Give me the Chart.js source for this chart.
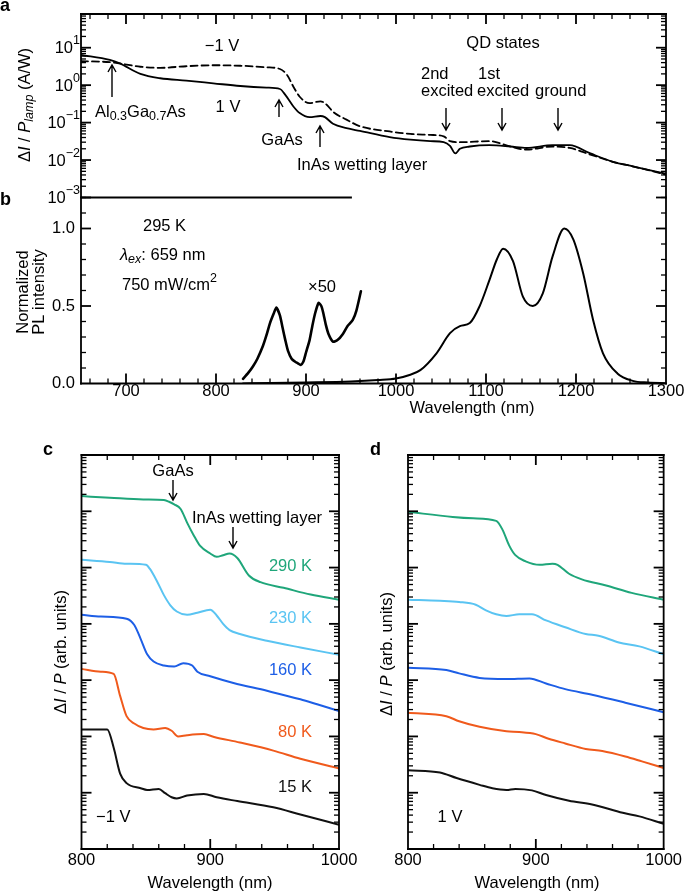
<!DOCTYPE html>
<html>
<head>
<meta charset="utf-8">
<script src="https://cdn.jsdelivr.net/npm/chart.js@4.4.1/dist/chart.umd.min.js"></script>
<style>
  html, body { margin: 0; padding: 0; background: #fff; }
  #wrap { position: relative; width: 685px; height: 893px; overflow: hidden; }
  #wrap canvas { position: absolute; left: 0; top: 0; }
</style>
</head>
<body>
<div id="wrap">
  <canvas id="chartA" width="685" height="893"></canvas>
  <canvas id="chartB" width="685" height="893"></canvas>
  <canvas id="chartC" width="685" height="893"></canvas>
  <canvas id="chartD" width="685" height="893"></canvas>
</div>
<script>
// ---- panel a: ΔI / P_lamp (A/W) vs wavelength (nm)
const aWave1V = [650, 682, 693, 716, 738, 767, 797, 827, 856, 871, 877, 886, 893, 904, 916, 921, 930, 945, 960, 993, 1016, 1038, 1053, 1060, 1066, 1071, 1082, 1104, 1127, 1145, 1174, 1193, 1216, 1241, 1263, 1300];
const aResp1V = [6.4, 4.7, 3.8, 2.0, 1.53, 1.32, 1.12, 0.95, 0.86, 0.79, 0.55, 0.27, 0.18, 0.14, 0.15, 0.14, 0.093, 0.071, 0.06, 0.041, 0.035, 0.032, 0.030, 0.024, 0.015, 0.020, 0.023, 0.025, 0.023, 0.021, 0.025, 0.025, 0.015, 0.009, 0.0068, 0.0043];
const aWaveM1V = [650, 682, 693, 716, 738, 767, 797, 827, 856, 871, 879, 886, 893, 904, 916, 923, 930, 945, 960, 993, 1016, 1038, 1053, 1060, 1071, 1104, 1127, 1145, 1174, 1193, 1216, 1241, 1263, 1300];
const aRespM1V = [4.4, 4.1, 3.8, 3.1, 2.9, 3.2, 3.4, 3.3, 3.0, 2.7, 1.87, 0.91, 0.49, 0.33, 0.37, 0.30, 0.195, 0.12, 0.08, 0.058, 0.05, 0.047, 0.043, 0.032, 0.030, 0.032, 0.023, 0.019, 0.023, 0.021, 0.014, 0.009, 0.0068, 0.0041];

// ---- panel b: normalized PL intensity
const bWave = [830, 860, 900, 950, 980, 1000, 1015, 1027, 1045, 1060, 1071, 1082, 1093, 1104, 1112, 1119, 1130, 1141, 1152, 1163, 1174, 1187, 1197, 1208, 1219, 1230, 1246, 1263, 1280, 1300];
const bPL = [0.0, 0.004, 0.007, 0.013, 0.022, 0.032, 0.055, 0.086, 0.195, 0.325, 0.37, 0.39, 0.5, 0.67, 0.8, 0.87, 0.79, 0.56, 0.50, 0.58, 0.82, 1.0, 0.93, 0.71, 0.41, 0.195, 0.065, 0.017, 0.006, 0.002];
const bWaveX50 = [830, 836, 841, 846, 852, 856, 860, 864, 867, 871, 874, 877, 880, 884, 888, 891, 894, 897, 900, 904, 907, 910, 914, 917, 919, 922, 925, 930, 935, 941, 946, 952, 956, 961];
const bPLx50 = [0.03, 0.07, 0.11, 0.16, 0.24, 0.31, 0.39, 0.45, 0.49, 0.44, 0.36, 0.28, 0.21, 0.16, 0.14, 0.13, 0.12, 0.14, 0.2, 0.28, 0.37, 0.45, 0.52, 0.5, 0.46, 0.38, 0.32, 0.27, 0.28, 0.32, 0.37, 0.41, 0.47, 0.595];

// ---- panel c: -1 V, arb. units
const cWave290 = [800, 822, 848, 864, 868, 872, 877, 882, 887, 892, 900, 905, 910, 915, 921, 930, 939, 957, 978, 1000];
const c290 = [1.86e6, 1.74e6, 1.62e6, 1.58e6, 1.48e6, 1.33e6, 1.1e6, 6.3e5, 3.8e5, 2.45e5, 1.78e5, 1.55e5, 1.66e5, 1.78e5, 1.48e5, 7.24e4, 5.5e4, 4.37e4, 3.31e4, 2.69e4];
const cWave230 = [800, 822, 835, 850, 853, 859, 864, 869, 874, 882, 890, 900, 905, 910, 915, 923, 944, 970, 1000];
const c230 = [1.38e5, 1.26e5, 1.17e5, 1.12e5, 9.55e4, 5.5e4, 3.24e4, 2.14e4, 1.66e4, 1.45e4, 1.58e4, 1.78e4, 1.41e4, 1.0e4, 7.76e3, 6.61e3, 5.01e3, 3.8e3, 2.82e3];
const cWave160 = [800, 815, 835, 841, 846, 851, 856, 864, 872, 879, 886, 890, 900, 918, 944, 970, 983, 1000];
const c160 = [1.45e4, 1.35e4, 1.23e4, 9.55e3, 5.37e3, 2.88e3, 2.14e3, 1.82e3, 1.74e3, 2.0e3, 1.82e3, 1.41e3, 1.17e3, 891, 646, 457, 372, 282];
const cWave80 = [800, 815, 825, 830, 835, 841, 848, 856, 865, 870, 875, 882, 895, 903, 923, 949, 970, 1000];
const c80 = [1585, 1413, 1288, 525, 229, 170, 141, 133, 141, 126, 100, 105, 110, 98, 78, 56, 40, 27];
const cWave15 = [800, 820, 825, 830, 835, 846, 851, 860, 865, 870, 874, 882, 895, 905, 921, 949, 970, 1000];
const c15 = [133, 133, 63, 21.9, 14.8, 12.0, 11.2, 11.7, 9.8, 8.3, 7.9, 8.9, 9.5, 8.3, 7.1, 5.5, 4.1, 2.7];

// ---- panel d: 1 V, arb. units
const dWave290 = [800, 835, 851, 869, 874, 879, 884, 892, 903, 913, 917, 926, 936, 955, 975, 1000];
const d290 = [9.77e5, 7.94e5, 7.5e5, 6.76e5, 4.68e5, 2.51e5, 1.66e5, 1.29e5, 1.12e5, 1.17e5, 1.12e5, 7.76e4, 6.17e4, 4.79e4, 3.55e4, 2.69e4];
const dWave230 = [800, 825, 840, 853, 861, 869, 877, 887, 897, 908, 923, 939, 949, 965, 981, 1000];
const d230 = [2.69e4, 2.57e4, 2.45e4, 2.19e4, 1.74e4, 1.48e4, 1.38e4, 1.48e4, 1.48e4, 1.15e4, 8.71e3, 6.61e3, 6.17e3, 4.68e3, 3.98e3, 2.88e3];
const dWave160 = [800, 830, 840, 856, 877, 895, 908, 923, 944, 970, 1000];
const d160 = [1660, 1514, 1318, 1096, 1047, 1072, 871, 692, 550, 398, 269];
const dWave80 = [800, 830, 840, 856, 877, 887, 900, 910, 923, 939, 952, 970, 983, 1000];
const d80 = [263, 229, 186, 148, 123, 120, 110, 91, 75, 60, 55, 44, 36, 27.5];
const dWave15 = [800, 825, 838, 856, 866, 877, 884, 897, 908, 926, 944, 968, 981, 1000];
const d15 = [25.1, 22.9, 18.2, 13.8, 12.0, 11.2, 11.7, 11.0, 9.1, 7.2, 6.2, 4.4, 3.8, 2.8];

const tempLabels = ['290 K', '230 K', '160 K', '80 K', '15 K'];
const tempColors = ['#1fa67a', '#5ac4f2', '#1d5ee6', '#f05a1c', '#111111'];
const bXLabels = [700, 800, 900, 1000, 1100, 1200, 1300];
const bYLabels = [0, 0.5, 1.0];
const cdXLabels = [800, 900, 1000];

const FAM = '"Liberation Sans", Arial, Helvetica, sans-serif';
const f = (size, style) => (style ? style + ' ' : '') + size + 'px ' + FAM;
const XH = 28, YW = 45; // room kept for tick labels outside each plot box

function pts(xs, ys) { return xs.map((x, i) => ({ x: x, y: ys[i] })); }
function steps(a, b, st) { const out = []; for (let v = a; v <= b + 1e-9; v += st) out.push(+v.toFixed(6)); return out; }
function logMinor(e0, e1, max) {
  const out = [];
  for (let e = e0; e <= e1; e++) for (let k = 2; k <= 9; k++) { const v = k * Math.pow(10, e); if (v < max) out.push(v); }
  return out;
}

function rich(ctx, x, y, parts, align) {
  let w = 0;
  parts.forEach(p => { ctx.font = p[1]; w += ctx.measureText(p[0]).width; });
  let cx = align === 'center' ? x - w / 2 : align === 'right' ? x - w : x;
  ctx.textAlign = 'left';
  ctx.textBaseline = 'middle';
  parts.forEach(p => { ctx.font = p[1]; ctx.fillText(p[0], cx, y + (p[2] || 0)); cx += ctx.measureText(p[0]).width; });
}

function arrow(ctx, x, yTail, yHead) {
  const d = yHead > yTail ? 1 : -1;
  ctx.lineWidth = 1.4;
  ctx.beginPath();
  ctx.moveTo(x, yTail); ctx.lineTo(x, yHead);
  ctx.moveTo(x - 4, yHead - d * 7); ctx.lineTo(x, yHead); ctx.lineTo(x + 4, yHead - d * 7);
  ctx.stroke();
}

function rotated(ctx, x, y, fn) {
  ctx.save(); ctx.translate(x, y); ctx.rotate(-Math.PI / 2); fn(); ctx.restore();
}

// box frame, inward ticks, extra text
function frame(name, cfg) {
  return {
    id: 'frame' + name,
    afterDatasetsDraw(chart) {
      const ctx = chart.ctx, ca = chart.chartArea, xs = chart.scales.x, ys = chart.scales.y;
      ctx.save();
      ctx.strokeStyle = '#000';
      ctx.fillStyle = '#000';
      const seg = (x0, y0, x1, y1, w) => { ctx.lineWidth = w; ctx.beginPath(); ctx.moveTo(x0, y0); ctx.lineTo(x1, y1); ctx.stroke(); };
      const mark = (vals, axis, sides, len, w) => {
        vals.forEach(v => {
          if (axis === 'x') {
            const px = xs.getPixelForValue(v);
            if (sides.includes('top')) seg(px, ca.top, px, ca.top + len, w);
            if (sides.includes('bottom')) seg(px, ca.bottom, px, ca.bottom - len, w);
          } else {
            const py = ys.getPixelForValue(v);
            if (sides.includes('left')) seg(ca.left, py, ca.left + len, py, w);
            if (sides.includes('right')) seg(ca.right, py, ca.right - len, py, w);
          }
        });
      };
      ctx.lineCap = 'butt';
      mark(cfg.xMinor, 'x', cfg.xSides, 5, 1.3);
      mark(cfg.xMajor, 'x', cfg.xSides, 10, 1.8);
      mark(cfg.yMinor, 'y', cfg.ySides, 5, 1.3);
      mark(cfg.yMajor, 'y', cfg.ySides, 10, 1.8);
      ctx.lineCap = 'square';
      if (cfg.borders.includes('top')) seg(ca.left, ca.top, ca.right, ca.top, 1.8);
      if (cfg.borders.includes('bottom')) seg(ca.left, ca.bottom, ca.right, ca.bottom, 1.8);
      if (cfg.borders.includes('left')) seg(ca.left, ca.top, ca.left, ca.bottom, 1.8);
      if (cfg.borders.includes('right')) seg(ca.right, ca.top, ca.right, ca.bottom, 1.8);
      ctx.lineCap = 'butt';
      if (cfg.draw) cfg.draw(ctx, chart, ca, xs, ys);
      ctx.restore();
    }
  };
}

function xScale(min, max, labels, padding) {
  return {
    type: 'linear', min: min, max: max,
    grid: { display: false, drawTicks: false }, border: { display: false },
    ticks: {
      display: !!labels, padding: padding || 0, color: '#000', maxRotation: 0, autoSkip: false,
      font: { family: FAM, size: 16.5, lineHeight: 1 },
      callback: v => String(v)
    },
    afterBuildTicks: s => { if (labels) s.ticks = labels.map(v => ({ value: v })); },
    afterFit: s => { s.height = XH; }
  };
}

function yScale(type, min, max, labels) {
  return {
    type: type, min: min, max: max,
    grid: { display: false, drawTicks: false }, border: { display: false },
    ticks: {
      display: !!labels, padding: 6, color: '#000', autoSkip: false,
      font: { family: FAM, size: 16.5, lineHeight: 1 },
      callback: v => Number(v).toFixed(1)
    },
    afterBuildTicks: s => { if (labels) s.ticks = labels.map(v => ({ value: v })); },
    afterFit: s => { s.width = YW; }
  };
}

function makeChart(id, box, datasets, scales, plugin) {
  return new Chart(document.getElementById(id), {
    type: 'line',
    data: { datasets: datasets },
    options: {
      responsive: false, animation: false, devicePixelRatio: 1,
      layout: { padding: { left: box[0] - YW, top: box[1], right: 685 - box[2], bottom: 893 - box[3] - XH } },
      plugins: { legend: { display: false }, tooltip: { enabled: false } },
      elements: { point: { radius: 0 }, line: { cubicInterpolationMode: 'monotone', borderCapStyle: 'round', borderJoinStyle: 'round' } },
      scales: scales
    },
    plugins: [plugin]
  });
}

const F = f(16.5), FI = f(16.5, 'italic'), FS = f(12.5), FSI = f(12.5, 'italic');

// ---------- panel a
makeChart('chartA', [81, 14, 666, 197.5], [
  { data: pts(aWave1V, aResp1V), borderColor: '#000', borderWidth: 1.8 },
  { data: pts(aWaveM1V, aRespM1V), borderColor: '#000', borderWidth: 1.8, borderDash: [7, 4] }
], {
  x: xScale(650, 1300, null),
  y: yScale('logarithmic', 1e-3, Math.pow(10, 1.9), null)
}, frame('A', {
  borders: ['top', 'left', 'right'],
  xSides: ['top'], ySides: ['left', 'right'],
  xMajor: steps(700, 1200, 100), xMinor: steps(660, 1280, 20).filter(v => v % 100 !== 0),
  yMajor: [1e-3, 1e-2, 1e-1, 1, 10], yMinor: logMinor(-3, 1, Math.pow(10, 1.9)),
  draw: (ctx, chart, ca, xs, ys) => {
    // partial lower frame line
    ctx.lineWidth = 1.8;
    ctx.beginPath(); ctx.moveTo(ca.left, ca.bottom); ctx.lineTo(xs.getPixelForValue(951), ca.bottom); ctx.stroke();
    // log tick labels with superscripts
    [-3, -2, -1, 0, 1].forEach(e => {
      const py = ys.getPixelForValue(Math.pow(10, e));
      const ex = e < 0 ? '\u2212' + (-e) : String(e);
      ctx.font = FS; ctx.textAlign = 'right'; ctx.textBaseline = 'middle';
      const ew = ctx.measureText(ex).width;
      ctx.fillText(ex, 80, py - 7);
      ctx.font = F;
      ctx.fillText('10', 80 - ew, py + 1);
    });
    rotated(ctx, 25, 105, () => rich(ctx, 0, 0, [['\u0394', F], ['I', FI], [' / ', F], ['P', FI], ['lamp', FSI, 5], [' (A/W)', F]], 'center'));
    ctx.font = f(18, 'bold'); ctx.textAlign = 'left'; ctx.textBaseline = 'alphabetic';
    ctx.fillText('a', 0, 11);
    rich(ctx, 222, 46, [['\u22121 V', F]], 'center');
    rich(ctx, 228, 107, [['1 V', F]], 'center');
    rich(ctx, 95, 112, [['Al', F], ['0.3', FS, 5], ['Ga', F], ['0.7', FS, 5], ['As', F]], 'left');
    rich(ctx, 282, 140, [['GaAs', F]], 'center');
    rich(ctx, 297, 165, [['InAs wetting layer', F]], 'left');
    rich(ctx, 503, 43, [['QD states', F]], 'center');
    rich(ctx, 421, 74, [['2nd', F]], 'left');
    rich(ctx, 421, 91, [['excited', F]], 'left');
    rich(ctx, 478, 74, [['1st', F]], 'left');
    rich(ctx, 477, 91, [['excited', F]], 'left');
    rich(ctx, 535, 91, [['ground', F]], 'left');
    arrow(ctx, 112, 97, 65);
    arrow(ctx, 279, 117, 100);
    arrow(ctx, 320, 147, 126);
    arrow(ctx, 446, 108, 130);
    arrow(ctx, 502, 108, 130);
    arrow(ctx, 558, 108, 130);
  }
}));

// ---------- panel b
makeChart('chartB', [81, 197.5, 666, 383.5], [
  { data: pts(bWave, bPL), borderColor: '#000', borderWidth: 2 },
  { data: pts(bWaveX50, bPLx50), borderColor: '#000', borderWidth: 2.6, cubicInterpolationMode: 'default', tension: 0.2 }
], {
  x: xScale(650, 1300, bXLabels, 0),
  y: yScale('linear', 0, 1.2, bYLabels)
}, frame('B', {
  borders: ['bottom', 'left', 'right'],
  xSides: ['bottom'], ySides: ['left', 'right'],
  xMajor: steps(700, 1200, 100), xMinor: steps(660, 1280, 20).filter(v => v % 100 !== 0),
  yMajor: [0.5, 1.0], yMinor: [0.1, 0.2, 0.3, 0.4, 0.6, 0.7, 0.8, 0.9, 1.1, 1.2],
  draw: (ctx) => {
    rotated(ctx, 23, 292, () => rich(ctx, 0, 0, [['Normalized', F]], 'center'));
    rotated(ctx, 39, 292, () => rich(ctx, 0, 0, [['PL intensity', F]], 'center'));
    ctx.font = f(18, 'bold'); ctx.textAlign = 'left'; ctx.textBaseline = 'alphabetic';
    ctx.fillText('b', 0, 205);
    rich(ctx, 143, 226, [['295 K', F]], 'left');
    rich(ctx, 120, 255, [['\u03bb', FI], ['ex', FSI, 5], [': 659 nm', F]], 'left');
    rich(ctx, 122, 285, [['750 mW/cm', F], ['2', FS, -6]], 'left');
    rich(ctx, 322, 287, [['\u00d750', F]], 'center');
    rich(ctx, 472, 408, [['Wavelength (nm)', F]], 'center');
  }
}));

// ---------- panels c and d
function tempSets(xsList, ysList) {
  return xsList.map((xs, i) => ({ data: pts(xs, ysList[i]), borderColor: tempColors[i], borderWidth: 2 }));
}
const cdTicks = {
  borders: ['top', 'bottom', 'left', 'right'],
  xSides: ['top', 'bottom'], ySides: ['left', 'right'],
  xMajor: [900], xMinor: steps(820, 980, 20).filter(v => v !== 900),
  yMajor: [10, 100, 1e3, 1e4, 1e5, 1e6], yMinor: logMinor(0, 6, 1e7)
};
function yTitle(ctx, x, y) {
  rotated(ctx, x, y, () => rich(ctx, 0, 0, [['\u0394', F], ['I', FI], [' / ', F], ['P', FI], [' (arb. units)', F]], 'center'));
}

makeChart('chartC', [81.5, 455, 339, 849],
  tempSets([cWave290, cWave230, cWave160, cWave80, cWave15], [c290, c230, c160, c80, c15]), {
  x: xScale(800, 1000, cdXLabels, 3),
  y: yScale('logarithmic', 1, 1e7, null)
}, frame('C', Object.assign({}, cdTicks, {
  draw: (ctx) => {
    yTitle(ctx, 61, 652);
    rich(ctx, 210, 883, [['Wavelength (nm)', F]], 'center');
    ctx.font = f(18, 'bold'); ctx.textAlign = 'left'; ctx.textBaseline = 'alphabetic';
    ctx.fillText('c', 43, 455);
    rich(ctx, 173, 471, [['GaAs', F]], 'center');
    arrow(ctx, 173, 480, 500);
    rich(ctx, 257, 518, [['InAs wetting layer', F]], 'center');
    arrow(ctx, 233, 527, 548);
    const ly = [566, 618, 670, 732, 787];
    tempLabels.forEach((t, i) => { ctx.fillStyle = tempColors[i]; rich(ctx, 312, ly[i], [[t, F]], 'right'); });
    ctx.fillStyle = '#000';
    rich(ctx, 96, 817, [['\u22121 V', F]], 'left');
  }
})));

makeChart('chartD', [408, 455, 665.5, 849],
  tempSets([dWave290, dWave230, dWave160, dWave80, dWave15], [d290, d230, d160, d80, d15]), {
  x: xScale(800, 1000, cdXLabels, 3),
  y: yScale('logarithmic', 1, 1e7, null)
}, frame('D', Object.assign({}, cdTicks, {
  draw: (ctx) => {
    yTitle(ctx, 387, 654);
    rich(ctx, 537, 883, [['Wavelength (nm)', F]], 'center');
    ctx.font = f(18, 'bold'); ctx.textAlign = 'left'; ctx.textBaseline = 'alphabetic';
    ctx.fillText('d', 370, 455);
    rich(ctx, 450, 817, [['1 V', F]], 'center');
  }
})));
</script>
</body>
</html>
